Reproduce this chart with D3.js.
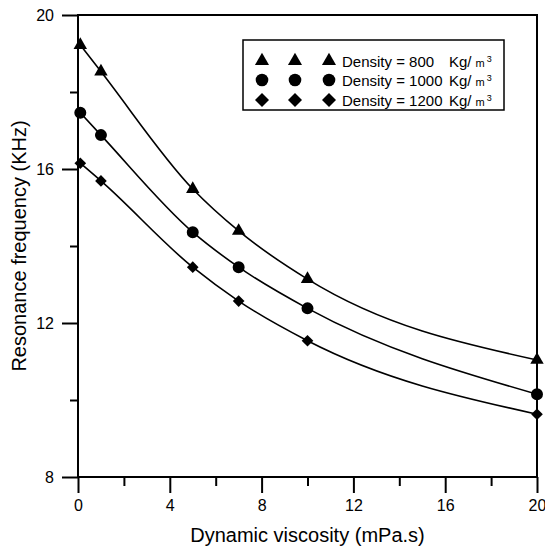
<!DOCTYPE html>
<html>
<head>
<meta charset="utf-8">
<script src="https://cdn.jsdelivr.net/npm/d3@7"></script>
<style>
  html, body { margin: 0; padding: 0; background: #fff; }
  svg { display: block; font-family: "Liberation Sans", Arial, Helvetica, sans-serif; }
</style>
</head>
<body>
<svg id="chart" width="545" height="550"></svg>
<script>
// Resonance frequency vs dynamic viscosity for three fluid densities
const viscosity = [0.1, 1, 5, 7, 10, 20];          // mPa.s
const freq800  = [19.22, 18.53, 15.48, 14.39, 13.14, 11.04]; // KHz
const freq1000 = [17.46, 16.88, 14.36, 13.45, 12.38, 10.15];
const freq1200 = [16.15, 15.69, 13.45, 12.57, 11.54, 9.63];
const densities = ["800", "1000", "1200"];
const xMajorTicks = [0, 4, 8, 12, 16, 20];
const xMinorTicks = [2, 6, 10, 14, 18];
const yMajorTicks = [8, 12, 16, 20];
const yMinorTicks = [10, 14, 18];

const svg = d3.select("#chart");
const plotLeft = 78, plotRight = 537, plotTop = 15, plotBottom = 477;

const x = d3.scaleLinear().domain([0, 20]).range([plotLeft, plotRight]);
const y = d3.scaleLinear().domain([8, 20]).range([plotBottom, plotTop]);

const series = [
  { density: densities[0], values: freq800,  shape: "triangle" },
  { density: densities[1], values: freq1000, shape: "circle" },
  { density: densities[2], values: freq1200, shape: "diamond" }
];

function symbolPath(shape, scale) {
  const k = scale || 1;
  if (shape === "triangle") return d3.symbol(d3.symbolTriangle, 78 * k * k)();
  if (shape === "circle") return d3.symbol(d3.symbolCircle, 113 * k * k)();
  return d3.symbol(d3.symbolSquare, 68 * k * k)();
}
function symbolRotate(shape) { return shape === "diamond" ? " rotate(45)" : ""; }

// Axes: major ticks carry labels, minor ticks are shorter
function styleAxis(g) {
  g.select(".domain").remove();
  g.selectAll(".tick line").attr("stroke", "#000").attr("stroke-width", 2);
  g.selectAll(".tick text").attr("fill", "#000").style("font-size", "16px")
    .style("font-family", "'Liberation Sans', Arial, sans-serif");
}

svg.append("g").attr("transform", `translate(0,${plotBottom})`)
  .call(d3.axisBottom(x).tickValues(xMajorTicks).tickSize(16).tickPadding(7).tickFormat(d3.format("d")))
  .call(styleAxis);
svg.append("g").attr("transform", `translate(0,${plotBottom})`)
  .call(d3.axisBottom(x).tickValues(xMinorTicks).tickSize(9).tickFormat(""))
  .call(styleAxis);
svg.append("g").attr("transform", `translate(${plotLeft},0)`)
  .call(d3.axisLeft(y).tickValues(yMajorTicks).tickSize(16).tickPadding(8).tickFormat(d3.format("d")))
  .call(styleAxis);
svg.append("g").attr("transform", `translate(${plotLeft},0)`)
  .call(d3.axisLeft(y).tickValues(yMinorTicks).tickSize(8).tickFormat(""))
  .call(styleAxis);

// Plot frame
svg.append("rect")
  .attr("x", plotLeft).attr("y", plotTop)
  .attr("width", plotRight - plotLeft).attr("height", plotBottom - plotTop)
  .attr("fill", "none").attr("stroke", "#000").attr("stroke-width", 2);

// Curves and markers
const line = d3.line()
  .x((d, i) => x(viscosity[i]))
  .y(d => y(d))
  .curve(d3.curveMonotoneX);

series.forEach(s => {
  svg.append("path")
    .attr("d", line(s.values))
    .attr("fill", "none")
    .attr("stroke", "#000")
    .attr("stroke-width", 1.6);
  svg.append("g").selectAll("path")
    .data(s.values)
    .join("path")
    .attr("d", symbolPath(s.shape))
    .attr("transform", (d, i) => `translate(${x(viscosity[i])},${y(d)})${symbolRotate(s.shape)}`)
    .attr("fill", "#000");
});

// Legend
const legend = svg.append("g");
legend.append("rect")
  .attr("x", 243).attr("y", 40).attr("width", 261).attr("height", 70)
  .attr("fill", "#fff").attr("stroke", "#000").attr("stroke-width", 1.5);

const rowY = [61, 80, 100];
const symX = [262, 295, 329];
const textX = 342;
series.forEach((s, r) => {
  symX.forEach(sx => {
    legend.append("path")
      .attr("d", symbolPath(s.shape, s.shape === "diamond" ? 1.2 : 1.05))
      .attr("transform", `translate(${sx},${rowY[r]})${symbolRotate(s.shape)}`)
      .attr("fill", "#000");
  });
  const t = legend.append("text")
    .attr("x", textX).attr("y", rowY[r] + 5.5)
    .style("font-size", "15px").attr("fill", "#000");
  t.append("tspan").text(`Density = ${s.density}`);
  t.append("tspan").attr("x", 449).text("Kg/");
  t.append("tspan").attr("dx", 4).style("font-size", "11px").text("m");
  t.append("tspan").attr("dx", 2).attr("dy", -5).style("font-size", "9px").text("3");
});

// Axis titles
svg.append("text")
  .attr("x", (plotLeft + plotRight) / 2).attr("y", 542)
  .attr("text-anchor", "middle")
  .style("font-size", "20px")
  .text("Dynamic viscosity (mPa.s)");
svg.append("text")
  .attr("transform", `translate(26,${(plotTop + plotBottom) / 2}) rotate(-90)`)
  .attr("text-anchor", "middle")
  .style("font-size", "20px")
  .text("Resonance frequency (KHz)");
</script>
</body>
</html>
